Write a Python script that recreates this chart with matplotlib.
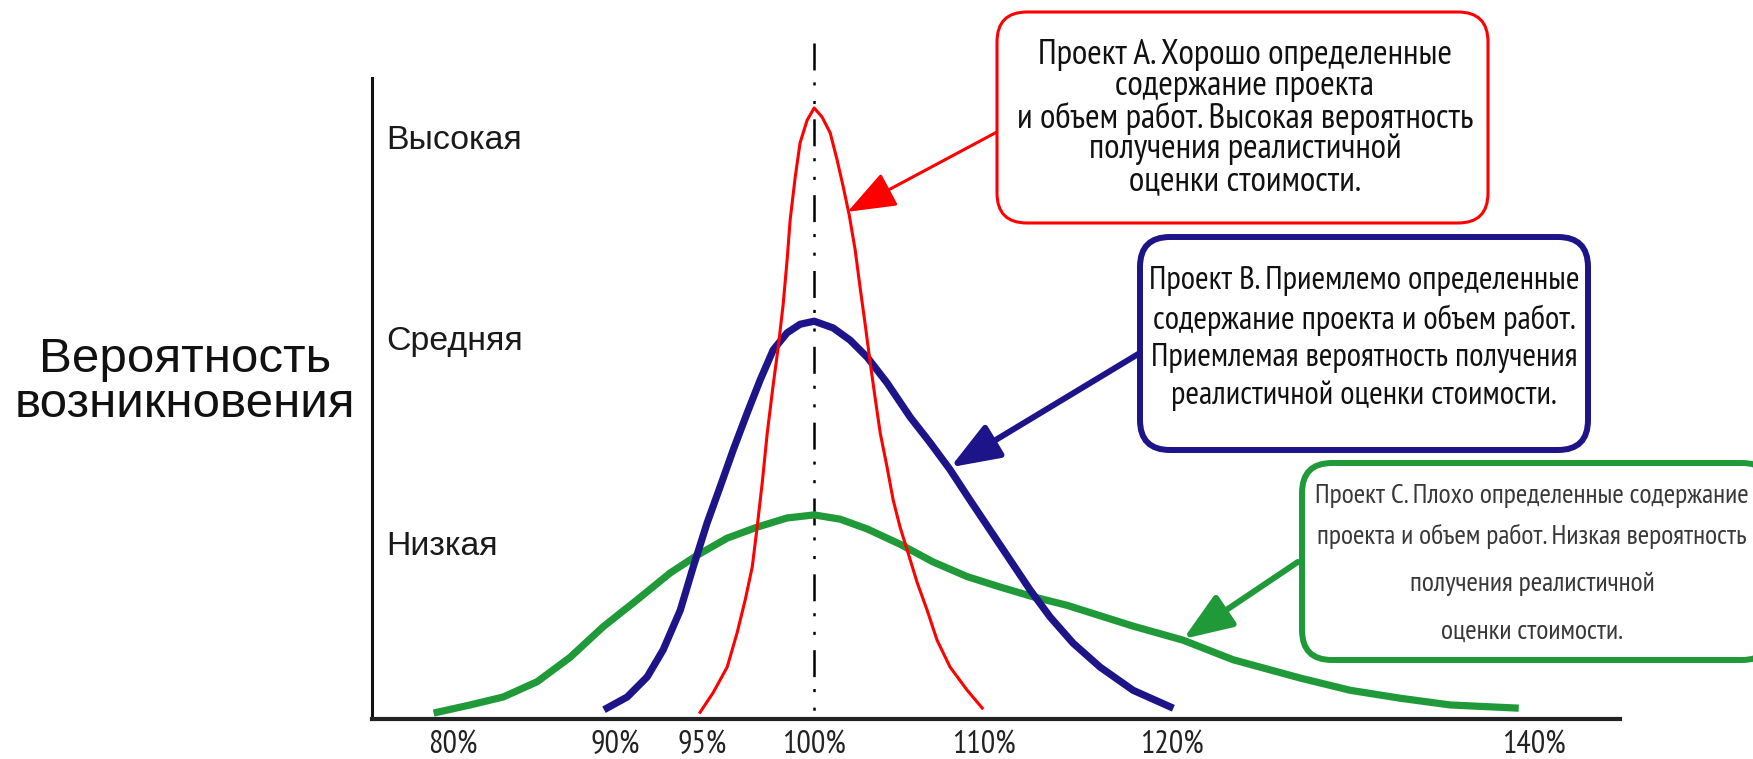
import matplotlib
matplotlib.use("Agg")
import matplotlib.pyplot as plt
from matplotlib.patches import FancyBboxPatch

plt.rcParams['lines.scale_dashes'] = False

# данные (x — % от оценки, y — относительная вероятность)
red_x = [93.68, 94.4, 95.18, 95.73, 96.18, 96.57, 96.84, 97.12, 97.4, 97.73, 98.01, 98.28,
         98.5, 98.67, 98.95, 99.22, 99.61, 100.0, 100.44, 100.89, 101.27, 101.61, 101.94,
         102.27, 102.55, 102.83, 103.1, 103.38, 103.66, 104.04, 104.38, 104.76, 105.15,
         105.71, 106.26, 106.81, 107.53, 108.48, 109.31]
red_y = [0.011, 0.043, 0.085, 0.141, 0.195, 0.249, 0.314, 0.386, 0.468, 0.547, 0.609, 0.678,
         0.751, 0.817, 0.887, 0.943, 0.980, 1.0, 0.985, 0.959, 0.915, 0.871, 0.825,
         0.768, 0.705, 0.645, 0.584, 0.525, 0.468, 0.412, 0.358, 0.314, 0.277,
         0.223, 0.178, 0.129, 0.085, 0.047, 0.018]

blue_x = [88.53, 89.64, 90.75, 91.63, 92.58, 93.3, 94.07, 94.79, 95.51, 96.29, 97.01, 97.73,
          98.5, 99.22, 100.0, 101.05, 101.99, 102.94, 104.04, 105.32, 106.43, 107.53, 108.64,
          109.75, 110.86, 111.97, 113.07, 114.35, 115.84, 117.67, 119.72]
blue_y = [0.018, 0.036, 0.069, 0.113, 0.178, 0.249, 0.321, 0.380, 0.440, 0.501, 0.555, 0.604,
          0.632, 0.646, 0.651, 0.640, 0.620, 0.592, 0.550, 0.494, 0.452, 0.408, 0.358,
          0.309, 0.260, 0.211, 0.167, 0.124, 0.085, 0.047, 0.020]

green_x = [79.11, 80.94, 82.77, 84.65, 86.48, 88.31, 90.19, 92.02, 93.52, 95.18, 96.84, 98.5,
           100.0, 101.44, 102.94, 104.76, 106.59, 108.48, 110.3, 112.13, 114.02, 115.84,
           117.67, 120.44, 123.21, 126.93, 129.7, 132.47, 135.24, 138.84]
green_y = [0.011, 0.023, 0.036, 0.061, 0.101, 0.151, 0.195, 0.239, 0.268, 0.296, 0.314, 0.329,
           0.334, 0.327, 0.311, 0.286, 0.257, 0.233, 0.216, 0.200, 0.186, 0.169,
           0.152, 0.129, 0.097, 0.067, 0.047, 0.034, 0.023, 0.018]

tick_pos = [80, 89, 93.8, 100, 109.4, 119.8, 139.9]
tick_labels = ["80%", "90%", "95%", "100%", "110%", "120%", "140%"]

level_pos = [0.953, 0.624, 0.288]
level_labels = ["Высокая", "Средняя", "Низкая"]

text_a = ["Проект А. Хорошо определенные", "содержание проекта",
          "и объем работ. Высокая вероятность", "получения реалистичной",
          "оценки стоимости."]
text_b = ["Проект В. Приемлемо определенные", "содержание проекта и объем работ.",
          "Приемлемая вероятность получения", "реалистичной оценки стоимости."]
text_c = ["Проект С. Плохо определенные содержание", "проекта и объем работ. Низкая вероятность",
          "получения реалистичной", "оценки стоимости."]

# куда указывают стрелки (кончик, хвост) в координатах графика
arrow_a = [(101.85, 0.830), (110.15, 0.961)]
arrow_b = [(107.55, 0.412), (118.05, 0.599)]
arrow_c = [(120.45, 0.131), (126.8, 0.257)]

RED = '#ff0000'
BLUE = '#1c1488'
GREEN = '#209a38'
NARROW = ['PT Sans Narrow', 'Roboto Condensed', 'Liberation Sans', 'DejaVu Sans']
REG = ['Liberation Sans', 'DejaVu Sans']

fig = plt.figure(figsize=(17.53, 7.59), dpi=100)
fig.patch.set_facecolor('white')

W, H = 1753, 759
ax = fig.add_axes([372 / W, 40 / H, 1248 / W, 641 / H])
ax.set_xlim(75.5, 144.65)
ax.set_ylim(0, 1.049)

# центральная штрих-пунктирная линия
ax.plot([100, 100], [1.106, -0.01], color='black', lw=1.8, clip_on=False,
        dashes=(19.4, 8.6, 2.2, 11.2, 2.2, 11.0), zorder=2)

ax.plot(green_x, green_y, color=GREEN, lw=5.2, solid_joinstyle='round', zorder=3)
ax.plot(blue_x, blue_y, color=BLUE, lw=5.2, solid_joinstyle='round', zorder=4)
ax.plot(red_x, red_y, color=RED, lw=2.2, solid_joinstyle='round', zorder=5)

for ar, col, lw in [(arrow_a, RED, 2.2), (arrow_b, BLUE, 4.3), (arrow_c, GREEN, 4.3)]:
    ax.annotate('', xy=ar[0], xytext=ar[1],
                arrowprops=dict(arrowstyle='-|>,head_length=1.0,head_width=0.38',
                                mutation_scale=30, color=col, lw=lw,
                                shrinkA=0, shrinkB=0))

for s in ['top', 'right']:
    ax.spines[s].set_visible(False)
ax.spines['left'].set_linewidth(2.2)
ax.spines['left'].set_color('#111111')
ax.spines['bottom'].set_linewidth(3.0)
ax.spines['bottom'].set_color('#222222')

ax.set_xticks(tick_pos, tick_labels)
ax.tick_params(axis='x', length=0, pad=8, labelsize=23, labelcolor='#222222')
for t in ax.get_xticklabels():
    t.set_family(NARROW)

ax.set_yticks(level_pos, level_labels)
ax.tick_params(axis='y', length=0, pad=-10, labelsize=24.4, labelcolor='#1a1a1a')
for t in ax.get_yticklabels():
    t.set_family(REG)
    t.set_horizontalalignment('left')

ax.set_ylabel("Вероятность\nвозникновения", rotation=0, fontsize=35.5, family=REG,
              linespacing=1.0, ha='center', va='center', color='#111111')
ax.yaxis.set_label_coords(-0.15, 0.525)

# слой для рамок с подписями (в пикселях картинки)
ov = fig.add_axes([0, 0, 1, 1])
ov.set_xlim(0, W)
ov.set_ylim(H, 0)
ov.axis('off')
ov.patch.set_alpha(0)

boxes = [
    (997, 12, 491, 211, RED, 2.2, text_a, 1245, [55, 86, 118, 149, 181], 25.5, '#111111'),
    (1140, 237, 448, 213, BLUE, 4.3, text_b, 1364, [281, 320, 358, 396], 23.7, '#111111'),
    (1302, 463, 470, 197, GREEN, 4.3, text_c, 1532, [496, 536, 584, 632], 20, '#383838'),
]
for x0, y0, w, h, col, lw, lines, cx, ys, fs, tc in boxes:
    ov.add_patch(FancyBboxPatch((x0, y0), w, h, boxstyle='round,pad=0,rounding_size=30',
                                facecolor='white', edgecolor=col, lw=lw, clip_on=False))
    for s, yy in zip(lines, ys):
        ov.text(cx, yy, s, ha='center', va='center', fontsize=fs, family=NARROW,
                color=tc, clip_on=False)

fig.savefig('out.png', dpi=100, facecolor='white')
